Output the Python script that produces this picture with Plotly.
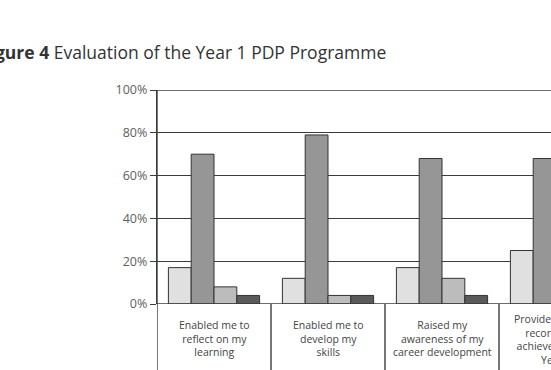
import plotly.graph_objects as go

categories = ["Enabled me to<br>reflect on my<br>learning",
              "Enabled me to<br>develop my<br>skills",
              "Raised my<br>awareness of my<br>career development",
              "Provided a useful<br>record of my<br>achievements in<br>Year 1"]
cat_keys = ["c1", "c2", "c3", "c4"]
series_a = [17, 12, 17, 25]
series_b = [70, 79, 68, 68]
series_c = [8, 4, 12, 8]
series_d = [4, 4, 4, 4]
y_ticks = [0, 20, 40, 60, 80, 100]
y_tick_labels = ["0%", "20%", "40%", "60%", "80%", "100%"]

colors = ["#e0e0e0", "#969696", "#bcbcbc", "#5a5a5a"]
FONT = "Open Sans"
LINE = "#3c3c3c"

fig = go.Figure()
for vals, col in zip([series_a, series_b, series_c, series_d], colors):
    fig.add_trace(go.Bar(x=cat_keys, y=vals, marker=dict(color=col, line=dict(color="#333333", width=1))))

W, H = 551, 370
L, T, B = 157, 90, 66
plot_h = H - T - B
plot_w = W - L
# category center spacing ~114 px, first center at 214
x_right = (W - 214) / 114.0

fig.update_layout(
    width=W, height=H,
    margin=dict(l=L, r=0, t=T, b=B, pad=0),
    paper_bgcolor="white", plot_bgcolor="white",
    barmode="group", bargap=0.2, bargroupgap=0,
    showlegend=False,
    font=dict(family=FONT, color="#555555"),
)
fig.update_xaxes(type="category", range=[-0.5, x_right], showticklabels=False,
                 showgrid=False, zeroline=False, showline=False, ticks="")
fig.update_yaxes(range=[0, 100], tickvals=y_ticks, ticktext=y_tick_labels,
                 showgrid=True, gridcolor=LINE, gridwidth=1.4,
                 zeroline=False, showline=True, linecolor=LINE, linewidth=1.4,
                 ticks="outside", ticklen=6, tickcolor=LINE, tickwidth=1.4,
                 tickfont=dict(size=12.5, color="#606060", family=FONT))

shapes = []
bottom = -B / plot_h
for i in range(len(cat_keys)):
    shapes.append(dict(type="line", xref="x", yref="paper", x0=i - 0.5, x1=i - 0.5,
                       y0=bottom, y1=0 if i > 0 else 1, line=dict(color=LINE, width=1.4)))
for yv in (0, 100):
    shapes.append(dict(type="line", xref="paper", yref="y", x0=0, x1=1, y0=yv, y1=yv,
                       line=dict(color=LINE, width=1.4), layer="above"))
fig.update_layout(shapes=shapes)

anns = []
for i, lab in enumerate(categories):
    cx = (214 + 114 * i - L) / plot_w
    top_px = 12 if lab.count("<br>") < 3 else 6
    anns.append(dict(x=cx, xref="paper", xanchor="center", y=-top_px / plot_h, yref="paper",
                     yanchor="top", text=lab, showarrow=False, align="center",
                     font=dict(size=10.5, color="#444444", family=FONT)))
anns.append(dict(xref="paper", x=(388 - L) / plot_w, xanchor="right",
                 yref="paper", y=(H - B - 52) / plot_h, yanchor="middle",
                 text="<b>Figure 4</b> Evaluation of the Year 1 PDP Programme",
                 showarrow=False, font=dict(size=17.5, color="#333333", family=FONT)))
fig.update_layout(annotations=anns)

fig.write_html("out.html")
